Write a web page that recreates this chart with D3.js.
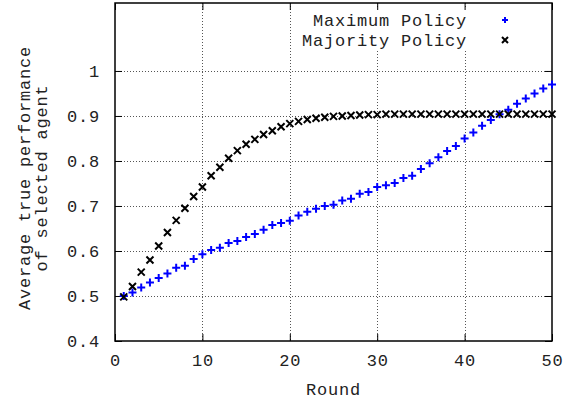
<!DOCTYPE html>
<html>
<head>
<meta charset="utf-8">
<script src="https://cdn.jsdelivr.net/npm/d3@7"></script>
<style>
  body { margin: 0; background: #fff; }
  text { font-family: "Liberation Mono", "Courier New", monospace; font-size: 17px; letter-spacing: 0.8px; fill: #222; }
</style>
</head>
<body>
<script>
var width = 576;
var height = 402;

// data
var rounds = d3.range(1, 51);
var maximumPolicy = [0.500, 0.508, 0.519, 0.530, 0.540, 0.550, 0.563, 0.567, 0.582, 0.593,
                     0.602, 0.607, 0.618, 0.622, 0.631, 0.638, 0.647, 0.658, 0.662, 0.667,
                     0.679, 0.687, 0.694, 0.700, 0.703, 0.712, 0.716, 0.727, 0.731, 0.742,
                     0.746, 0.751, 0.762, 0.767, 0.782, 0.795, 0.808, 0.822, 0.833, 0.850,
                     0.863, 0.878, 0.891, 0.904, 0.914, 0.927, 0.939, 0.950, 0.961, 0.970];
var majorityPolicy = [0.498, 0.521, 0.553, 0.580, 0.611, 0.641, 0.668, 0.695, 0.721, 0.742,
                      0.767, 0.786, 0.806, 0.823, 0.837, 0.848, 0.859, 0.867, 0.876, 0.883,
                      0.888, 0.892, 0.895, 0.897, 0.899, 0.900, 0.901, 0.902, 0.903, 0.903,
                      0.904, 0.904, 0.904, 0.904, 0.904, 0.904, 0.904, 0.904, 0.904, 0.904,
                      0.904, 0.904, 0.904, 0.904, 0.904, 0.904, 0.904, 0.904, 0.904, 0.904];
var xTicks = [0, 10, 20, 30, 40, 50];
var yTicks = [0.4, 0.5, 0.6, 0.7, 0.8, 0.9, 1];
var seriesNames = ["Maximum Policy", "Majority Policy"];

var plotLeft = 115, plotRight = 552, plotTop = 3, plotBottom = 341;

var svg = d3.select("body").append("svg")
    .attr("width", width)
    .attr("height", height);

var xScale = d3.scaleLinear().domain([0, 50]).range([plotLeft, plotRight]);
var yScale = d3.scaleLinear().domain([0.4, 1.151]).range([plotBottom, plotTop]);

// grid
var grid = svg.append("g")
    .attr("stroke", "#555")
    .attr("stroke-width", 1)
    .attr("stroke-dasharray", "1,2");

grid.selectAll("line.gx")
    .data(xTicks.slice(1, -1))
    .enter().append("line")
    .attr("x1", d => Math.round(xScale(d)) + 0.5)
    .attr("x2", d => Math.round(xScale(d)) + 0.5)
    .attr("y1", plotTop)
    .attr("y2", plotBottom);

grid.selectAll("line.gy")
    .data(yTicks.slice(1))
    .enter().append("line")
    .attr("x1", plotLeft)
    .attr("x2", plotRight)
    .attr("y1", d => Math.round(yScale(d)) + 0.5)
    .attr("y2", d => Math.round(yScale(d)) + 0.5);

// key background (opaque)
svg.append("rect")
    .attr("x", 300)
    .attr("y", 9)
    .attr("width", 220)
    .attr("height", 40)
    .attr("fill", "#fff");

// axes with mirrored ticks
var xAxisB = d3.axisBottom(xScale).tickValues(xTicks).tickSizeInner(-7).tickSizeOuter(0).tickPadding(13);
var xAxisT = d3.axisTop(xScale).tickValues(xTicks).tickSizeInner(-7).tickSizeOuter(0).tickFormat("");
var yAxisL = d3.axisLeft(yScale).tickValues(yTicks).tickSizeInner(-7).tickSizeOuter(0).tickPadding(15).tickFormat(d3.format("~g"));
var yAxisR = d3.axisRight(yScale).tickValues(yTicks).tickSizeInner(-7).tickSizeOuter(0).tickFormat("");

svg.append("g").attr("transform", "translate(0," + plotBottom + ")").call(xAxisB);
svg.append("g").attr("transform", "translate(0," + plotTop + ")").call(xAxisT);
svg.append("g").attr("transform", "translate(" + plotLeft + ",0)").call(yAxisL);
svg.append("g").attr("transform", "translate(" + plotRight + ",0)").call(yAxisR);

svg.selectAll(".domain").remove();
svg.selectAll(".tick line").attr("stroke", "#000").attr("stroke-width", 1);
svg.selectAll(".tick text").attr("font-family", null).attr("font-size", null).attr("fill", null);

svg.append("rect")
    .attr("x", plotLeft)
    .attr("y", plotTop)
    .attr("width", plotRight - plotLeft)
    .attr("height", plotBottom - plotTop)
    .attr("fill", "none")
    .attr("stroke", "#000")
    .attr("stroke-width", 1.5);

// markers
function plus(s) {
    return "M" + (-s) + ",0H" + s + "M0," + (-s) + "V" + s;
}
function cross(s) {
    return "M" + (-s) + "," + (-s) + "L" + s + "," + s + "M" + (-s) + "," + s + "L" + s + "," + (-s);
}

var maxData = rounds.map((r, i) => ({ x: r, y: maximumPolicy[i] }));
var majData = rounds.map((r, i) => ({ x: r, y: majorityPolicy[i] }));

svg.append("g").selectAll("path")
    .data(maxData)
    .enter().append("path")
    .attr("transform", d => "translate(" + xScale(d.x) + "," + yScale(d.y) + ")")
    .attr("d", plus(4))
    .attr("stroke", "#0000ff")
    .attr("stroke-width", 2)
    .attr("fill", "none");

svg.append("g").selectAll("path")
    .data(majData)
    .enter().append("path")
    .attr("transform", d => "translate(" + xScale(d.x) + "," + yScale(d.y) + ")")
    .attr("d", cross(3.5))
    .attr("stroke", "#000")
    .attr("stroke-width", 2)
    .attr("fill", "none");

// key
var key = svg.append("g");
key.selectAll("text")
    .data(seriesNames)
    .enter().append("text")
    .attr("x", 467)
    .attr("y", (d, i) => 20 + i * 20)
    .attr("dy", "0.35em")
    .attr("text-anchor", "end")
    .text(d => d);

key.append("path")
    .attr("transform", "translate(505,20)")
    .attr("d", plus(3))
    .attr("stroke", "#0000ff")
    .attr("stroke-width", 2);
key.append("path")
    .attr("transform", "translate(505,40)")
    .attr("d", cross(3))
    .attr("stroke", "#000")
    .attr("stroke-width", 2);

// axis titles
svg.append("text")
    .attr("x", (plotLeft + plotRight) / 2)
    .attr("y", 389)
    .attr("dy", "0.35em")
    .attr("text-anchor", "middle")
    .text("Round");

var ylab = svg.append("text")
    .attr("transform", "translate(24,178) rotate(-90)")
    .attr("text-anchor", "middle");
ylab.append("tspan").attr("x", 0).attr("dy", "0.35em").text("Average true performance");
ylab.append("tspan").attr("x", 0).attr("dy", "1em").text("of selected agent");
</script>
</body>
</html>
